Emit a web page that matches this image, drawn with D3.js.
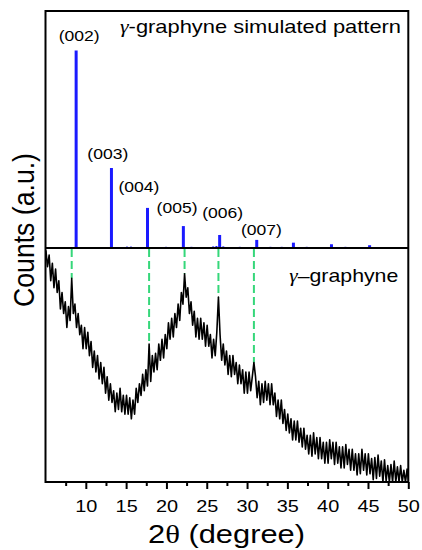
<!DOCTYPE html>
<html>
<head>
<meta charset="utf-8">
<script src="https://cdn.jsdelivr.net/npm/d3@7"></script>
<style>
  body { margin: 0; background: #fff; }
  svg { display: block; }
  text { font-family: "Liberation Sans", Arial, Helvetica, sans-serif; fill: #000; }
</style>
</head>
<body>
<svg id="chart" width="422" height="550"></svg>
<script>
// ---- simulated pattern (top panel) ----
const simTwoTheta = [8.8, 13.18, 17.65, 22.1, 26.6, 31.2, 35.75, 40.47, 45.2];
const simIntensity = [100, 40.5, 20.3, 11.1, 6.6, 4.1, 2.7, 1.9, 1.4];
const simLabels = ["(002)", "(003)", "(004)", "(005)", "(006)", "(007)"];
// weak reflections that barely rise above the baseline
const weakTwoTheta = [15.1, 15.6, 19.95, 23.1, 25.8, 26.2, 27.05, 29.1, 32.9, 34.3, 37.4, 42.2];
const weakIntensity = [0.7, 0.7, 0.6, 0.6, 0.8, 1.0, 0.8, 0.6, 0.6, 0.6, 0.6, 0.6];

// ---- measured scan (bottom panel) ----
const scanStart = 5.05;   // 2θ of first sample
const scanStep = 0.2;     // 2θ step
const counts = [
  99, 92, 97, 86, 93.5,   83, 91, 81, 86, 74,     81, 72, 77, 66, 75,     69, 87, 72, 76, 66,
  72, 63, 67, 57, 66,     57, 64, 54, 60, 49,     56, 47, 54, 44, 51,     42, 49, 38, 45, 35,
  42, 34, 39, 30, 38,     31, 40, 30, 37, 29,     37, 29, 36, 27, 35,     29, 40, 34, 42, 37,
  46, 39, 48, 41, 59,     43, 54, 47, 55, 48,     59, 52, 61, 53, 63,     57, 68, 61, 70, 62,
  72, 66, 76, 69, 81,     76, 89, 79, 83, 72,     77, 67, 73, 62, 70,     61, 70, 61, 68, 58,
  67, 58, 63, 53, 61,     54, 64, 79, 63, 52,     59, 50, 56, 46, 54,     45, 54, 46, 51, 42,
  50, 42, 48, 38, 47,     38, 47, 39, 45, 51,     45, 36, 43, 33, 42,     34, 43, 35, 42, 33,
  42, 33, 38, 28, 35,     27, 35, 25, 31, 22,     29, 21, 27, 18, 26,     18, 26, 17, 23, 15,
  23, 14, 20, 12, 20,     11, 21, 12, 19, 10,     19, 10, 17, 8, 17,      8, 18, 10, 17, 7.5,
  17, 8, 15, 6, 15,       6, 16, 7.5, 14, 5,      14, 5, 12, 3, 12,       3.5, 14, 5, 12, 3,
  12, 3.5, 10, 1, 10.5,   1.5, 11.5, 2.5, 9, 0,   9.5, 0.5, 7, 0, 7.5,    0, 9, 0, 6.5, 0,
  7, 0, 5, 0, 5.5,        0
];
// experimental reflections marked with guide lines
const markTwoTheta = [8.25, 17.85, 22.25, 26.45, 30.85];

// ---- axis ----
const majorTicks = [10, 15, 20, 25, 30, 35, 40, 45, 50];
const minorTicks = [7.5, 12.5, 17.5, 22.5, 27.5, 32.5, 37.5, 42.5, 47.5];

// ---- layout ----
const L = 45.5, R = 408.3, T = 11, MID = 248, B = 482;
const SX = 1.17; // horizontal stretch of the lettering
const labelOffsets = [[3, -10], [-3.6, -9.3], [-8.6, -16.3], [-6.3, -12.7], [3.1, -16.7], [4.7, -5]];

const svg = d3.select("#chart");
const x = d3.scaleLinear().domain([5, 50]).range([L, R]);
const yTop = d3.scaleLinear().domain([0, 120]).range([MID, T]);
const yBot = d3.scaleLinear().domain([0, 100]).range([B, MID]);

svg.append("clipPath").attr("id", "botClip")
  .append("rect").attr("x", L).attr("y", MID).attr("width", R - L).attr("height", B - MID);

// guide lines from the divider down to the measured peaks
const idx = t => Math.round((t - scanStart) / scanStep);
svg.append("g").selectAll("line").data(markTwoTheta).join("line")
  .attr("x1", d => x(d)).attr("x2", d => x(d))
  .attr("y1", MID + 1).attr("y2", d => yBot(counts[idx(d)]))
  .attr("stroke", "#35d77a").attr("stroke-width", 2).attr("stroke-dasharray", "8,4");

// measured scan
const line = d3.line()
  .x((d, i) => x(scanStart + i * scanStep))
  .y(d => yBot(d));
svg.append("path").datum(counts)
  .attr("clip-path", "url(#botClip)")
  .attr("d", line)
  .attr("fill", "none").attr("stroke", "#000").attr("stroke-width", 1.6)
  .attr("stroke-linejoin", "round");

// simulated stick pattern
svg.append("g").selectAll("line").data(weakTwoTheta).join("line")
  .attr("x1", d => x(d)).attr("x2", d => x(d))
  .attr("y1", MID).attr("y2", (d, i) => yTop(weakIntensity[i]))
  .attr("stroke", "#1a1aff").attr("stroke-width", 2);
svg.append("g").selectAll("line").data(simTwoTheta).join("line")
  .attr("x1", d => x(d)).attr("x2", d => x(d))
  .attr("y1", MID).attr("y2", (d, i) => yTop(simIntensity[i]))
  .attr("stroke", "#1a1aff").attr("stroke-width", 3);

// Miller index labels
svg.append("g").selectAll("text").data(simLabels).join("text")
  .attr("transform", (d, i) =>
    `translate(${x(simTwoTheta[i]) + labelOffsets[i][0]},${yTop(simIntensity[i]) + labelOffsets[i][1]}) scale(${SX},1)`)
  .attr("text-anchor", "middle").attr("font-size", 15)
  .text(d => d);

// frame and panel divider
svg.append("rect").attr("x", L).attr("y", T).attr("width", R - L).attr("height", B - T)
  .attr("fill", "none").attr("stroke", "#000").attr("stroke-width", 2);
svg.append("line").attr("x1", L).attr("x2", R).attr("y1", MID).attr("y2", MID)
  .attr("stroke", "#000").attr("stroke-width", 2);

// bottom axis
const gMinor = svg.append("g").attr("transform", `translate(0,${B})`)
  .call(d3.axisBottom(x).tickValues(minorTicks).tickSize(4).tickFormat(""));
const gMajor = svg.append("g").attr("transform", `translate(0,${B})`)
  .call(d3.axisBottom(x).tickValues(majorTicks).tickSize(7).tickPadding(11).tickFormat(d3.format("d")));
[gMinor, gMajor].forEach(g => {
  g.select(".domain").remove();
  g.selectAll("line").attr("stroke", "#000").attr("stroke-width", 2);
});
gMajor.selectAll("text").attr("font-size", 17).attr("fill", "#000")
  .attr("font-family", "Liberation Sans, Arial, sans-serif")
  .attr("transform", `scale(${SX},1)`);

// panel captions
const cap1 = svg.append("text").attr("x", 120).attr("y", 33.3).attr("font-size", 18.5)
  .attr("textLength", 281).attr("lengthAdjust", "spacingAndGlyphs");
cap1.append("tspan").attr("font-family", "Liberation Serif, serif").attr("font-style", "italic").text("γ");
cap1.append("tspan").text("-graphyne simulated pattern");

const cap2 = svg.append("text").attr("x", 289.3).attr("y", 281.7).attr("font-size", 18.5)
  .attr("textLength", 109).attr("lengthAdjust", "spacingAndGlyphs");
cap2.append("tspan").attr("font-family", "Liberation Serif, serif").attr("font-style", "italic").text("γ");
cap2.append("tspan").text("–graphyne");

// axis titles
const xt = svg.append("text").attr("x", 226.5).attr("y", 543).attr("text-anchor", "middle")
  .attr("font-size", 25).attr("textLength", 157).attr("lengthAdjust", "spacingAndGlyphs");
xt.append("tspan").text("2");
xt.append("tspan").attr("font-family", "Liberation Serif, serif").text("θ");
xt.append("tspan").text(" (degree)");

svg.append("text")
  .attr("transform", `translate(33.5,230) scale(${SX},1) rotate(-90)`)
  .attr("text-anchor", "middle").attr("font-size", 26)
  .attr("textLength", 154).attr("lengthAdjust", "spacingAndGlyphs")
  .text("Counts (a.u.)");
</script>
</body>
</html>
